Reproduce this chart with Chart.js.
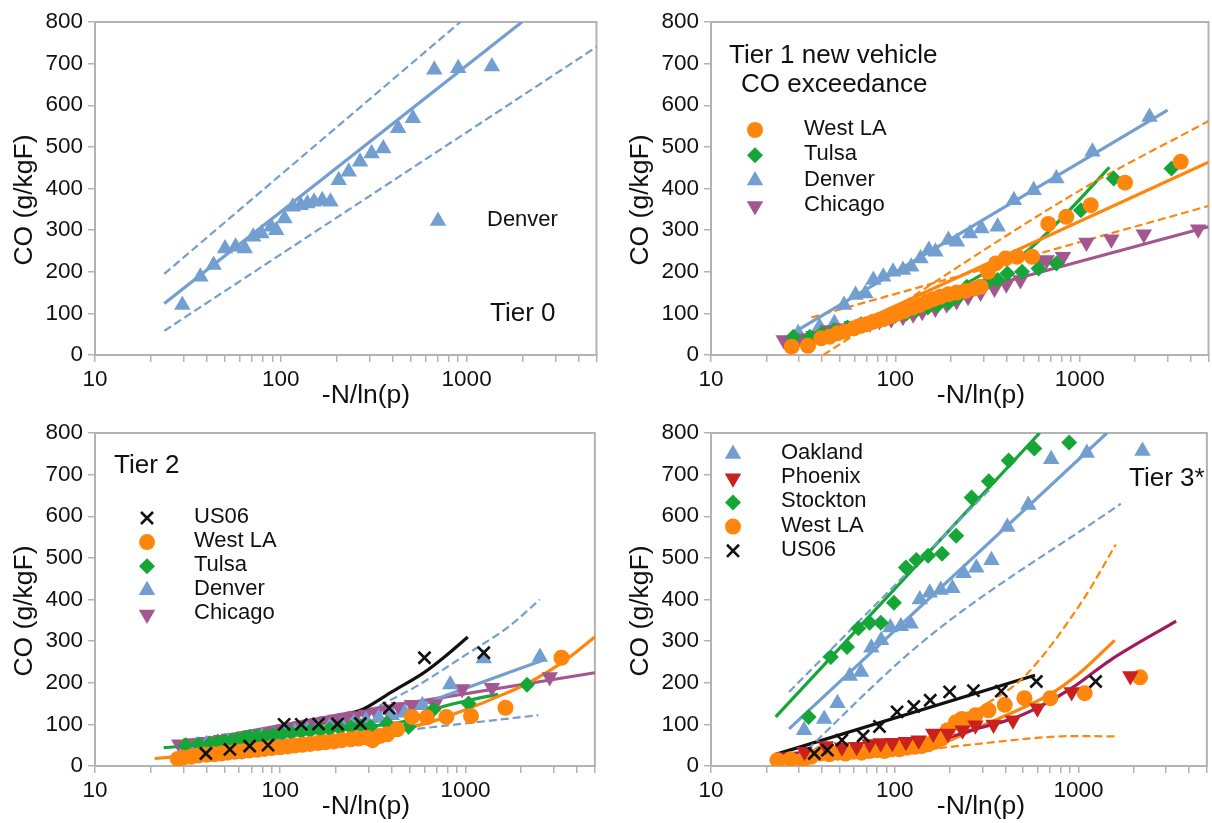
<!DOCTYPE html>
<html>
<head>
<meta charset="utf-8">
<script src="https://cdn.jsdelivr.net/npm/chart.js@4.4.1/dist/chart.umd.min.js"></script>
<style>
  html, body { margin: 0; padding: 0; background: #fff; overflow: hidden; width: 1212px; height: 823px; }
  canvas { position: absolute; }
</style>
</head>
<body>
<canvas id="tier0" width="606" height="411" style="left:0;top:0"></canvas>
<canvas id="tier1" width="612" height="411" style="left:606px;top:0"></canvas>
<canvas id="tier2" width="606" height="412" style="left:0;top:411px"></canvas>
<canvas id="tier3" width="612" height="412" style="left:606px;top:411px"></canvas>
<script>
// ---------- axis ticks ----------
const xMajorTicks = [10, 100, 1000];
const xMinorTicks = [20, 30, 40, 50, 60, 70, 80, 90, 200, 300, 400, 500, 600, 700, 800, 900, 2000, 3000, 4000, 5000];
const yTickLabels = [0, 100, 200, 300, 400, 500, 600, 700, 800];

// ---------- Tier 0 : [-N/ln(p), CO g/kgF] ----------
const tier0Denver = [[29.5,120],[36.9,188],[43.5,216],[50.1,256],[57.1,260],[64,256],[71,284],[78.6,292],[88.8,308],[94.5,300],[104.7,328],[116,356],[128,360],[139,364],[151,368],[167,372],[185,368],[205,420],[232,440],[267,464],[308,484],[356,496],[428,545],[514,569],[670,685],[901,689],[1368,693]];
const tier0DenverFit = [[23.6,124],[1986,800]];
const tier0DenverUpper = [[23.6,195],[925,800]];
const tier0DenverLower = [[23.6,58],[5000,740]];

// ---------- Tier 1 ----------
const tier1WestLA = [[27.4,20],[33.6,22],[39.6,40],[44,44],[48.5,52],[53,56],[59.6,64],[65,70],[70,74],[76,80],[82,84],[88,88],[95,94],[103,100],[112,106],[124,114],[135,120],[148,128],[160,134],[175,140],[194,146],[215,150],[240,154],[270,160],[290,164],[318,200],[351,220],[397,232],[458,236],[551,236],[676,315],[846,332],[1148,360],[1762,414],[3532,464]];
const tier1Tulsa = [[28,44],[34.4,44],[40,52],[46.7,60],[55,66],[65,74],[75,80],[88,86],[100,94],[115,100],[130,108],[150,114],[170,120],[195,126],[220,140],[244,164],[318,176],[359,180],[405,196],[487,200],[598,208],[748,220],[1016,348],[1530,424],[3150,448]];
const tier1Denver = [[29.7,52],[38.8,68],[46.7,76],[52.7,120],[60.8,144],[68.8,148],[76,180],[86,188],[97.2,200],[110,204],[122,212],[137,232],[152,252],[165,248],[194,276],[216,272],[254,292],[293,304],[359,308],[440,372],[563,396],[748,424],[1173,488],[2393,572]];
const tier1Chicago = [[24.8,36],[30,40],[36,46],[43,60],[50,64],[58,70],[66,74],[73,76],[82,82],[95,86],[110,92],[125,98],[140,104],[165,112],[190,122],[215,130],[248,140],[290,150],[345,160],[400,170],[477,180],[611,222],[662,228],[812,236],[1089,270],[1486,278],[2229,290],[4395,302]];
const tier1DenverFit = [[28.6,56],[3000,588]];
const tier1WestLAFit = [[39.6,36],[5000,463]];
const tier1WestLAUpper = [[40.7,0],[1000,395],[5000,562]];
const tier1WestLALower = [[35,90],[5000,358]];
const tier1TulsaFit = [[27,38],[60,62],[100,90],[200,150],[300,195],[498,244],[846,340],[1449,451]];
const tier1ChicagoFit = [[25,33],[5000,308]];

// ---------- Tier 2 ----------
const tier2US06 = [[39.7,30],[53.5,40],[68.4,48],[85.9,50],[105,100],[130,100],[161,101],[204,101],[271,102],[387,139],[601,260],[1256,272]];
const tier2WestLA = [[28,17],[30,20],[33,22],[36,25],[40,27],[44,28],[48,30],[52,32],[57,34],[62,35],[68,37],[75,39],[82,41],[90,43],[100,45],[110,47],[120,49],[132,51],[145,53],[160,55],[175,57],[195,59],[215,62],[240,64],[265,66],[295,68],[315,62],[345,72],[378,76],[428,88],[514,118],[618,117],[789,118],[1072,120],[1645,140],[3300,260]];
const tier2Tulsa = [[30.8,50],[36,52],[41.6,54],[46,58],[50.3,60],[55,62],[59.3,64],[64,67],[68.4,70],[75,71],[82.8,72],[92,75],[102,77],[115,80],[130,82],[145,84],[165,86],[185,88],[210,90],[240,93],[270,96],[308,94],[378,102],[493,94],[670,135],[1040,150],[2150,195]];
const tier2Denver = [[31,46],[35,48],[40,52],[46,56],[52,58],[60,62],[70,66],[80,70],[92,74],[105,78],[120,82],[140,86],[160,90],[185,94],[215,98],[250,104],[290,110],[340,116],[400,122],[470,128],[585,146],[828,196],[1256,258],[2525,262]];
const tier2Chicago = [[28.5,52],[33,55],[36.9,56],[40,58],[43.5,60],[48,63],[53,66],[58,68],[64,71],[70,74],[78,77],[86,80],[95,84],[105,88],[117,92],[130,96],[145,100],[160,104],[180,108],[200,112],[225,116],[255,120],[290,124],[330,128],[380,134],[437,142],[514,147],[684,149],[960,185],[1390,188],[2850,214]];
const tier2US06Fit = [[29,30],[40,34],[53,42],[68,50],[90,64],[130,86],[171,104],[230,122],[290,140],[400,178],[600,225],[770,262],[1030,310]];
const tier2WestLAFit = [[21,18],[40,28],[100,42],[200,57],[290,67],[450,88],[656,106],[1000,135],[1486,166],[2200,200],[3366,250],[5000,310]];
const tier2TulsaFit = [[23.5,44],[50,55],[100,72],[200,86],[290,94],[494,110],[712,139],[1072,159],[1500,172]];
const tier2DenverFit = [[30,45],[100,68],[316,105],[839,174],[2685,256]];
const tier2DenverUpper = [[300,132],[536,190],[988,265],[1714,335],[2525,400]];
const tier2DenverLower = [[474,86],[2477,122]];
const tier2ChicagoFit = [[28,52],[290,135],[5000,224]];

// ---------- Tier 3* ----------
const tier3Oakland = [[32.1,86],[41.3,113],[48.8,151],[56.9,216],[65.6,226],[74.6,284],[84.4,302],[94.6,333],[108,336],[122,342],[137,400],[155,416],[178,423],[206,427],[237,463],[278,476],[336,494],[410,574],[533,627],[710,737],[1110,752],[2230,757]];
const tier3Phoenix = [[32.3,34],[42.1,48],[51.6,45],[62,46],[73,53],[84,55],[97,56],[115,58],[135,62],[162,78],[195,78],[234,86],[275,98],[345,100],[440,110],[598,139],[918,178],[1915,216]];
const tier3Stockton = [[34,118],[44.9,262],[55,286],[63.4,331],[73,344],[84,344],[99,392],[115,477],[131,495],[152,505],[181,510],[216,553],[262,645],[325,684],[417,734],[575,763],[890,777]];
const tier3WestLA = [[23,14],[27,16],[31.6,14],[35,22],[39.5,30],[44,28],[49,32],[54,30],[60,34],[66,32],[73,36],[80,38],[88,36],[96,40],[106,40],[117,44],[128,46],[140,48],[152,52],[165,58],[180,66],[194,86],[215,105],[232,113],[250,112],[275,122],[324,134],[397,147],[508,163],[703,163],[1081,175],[2163,213]];
const tier3US06 = [[36.5,30],[43,38],[51.6,62],[67.3,72],[82.6,95],[103,130],[127,143],[156,158],[199,178],[268,181],[380,180],[590,203],[1240,203]];
const tier3OaklandFit = [[26.6,89],[1429,800]];
const tier3OaklandUpper = [[26.6,178],[339,670]];
const tier3OaklandLower = [[27,0],[146,303],[1700,630]];
const tier3StocktonFit = [[22.5,118],[615,800]];
const tier3PhoenixFit = [[22.5,28],[50,38],[100,50],[200,70],[270,88],[440,114],[611,142],[918,187],[1500,255],[3400,348]];
const tier3WestLAFit = [[22.5,16],[50,22],[100,32],[160,48],[200,62],[270,88],[405,122],[718,175],[1038,227],[1574,302]];
const tier3WestLAUpper = [[150,55],[293,140],[508,215],[1059,399],[1596,532]];
const tier3WestLALower = [[150,40],[270,52],[611,68],[1000,72],[1600,71]];
const tier3US06Fit = [[22.5,28],[580,218]];

// ---------- styling ----------
const FONT = "'Liberation Sans', Arial, sans-serif";
const AXIS_COLOR = '#b3b3b3';
const TEXT_COLOR = '#111111';
const BLUE = '#729fcf';
const ORANGE = '#ff860d';
const GREEN = '#16a638';
const PURPLE = '#a3578f';
const RED = '#c9211e';
const CRIMSON = '#a3195b';
const BLACK = '#111111';

const MARK = {
  tri:   { ps: 'triangle', rot: 0,   r: 9.5 },
  down:  { ps: 'triangle', rot: 180, r: 9.5 },
  dia:   { ps: 'rectRot',  rot: 0,   r: 8 },
  dot:   { ps: 'circle',   rot: 0,   r: 8 },
  cross: { ps: 'crossRot', rot: 0,   r: 8.5, bw: 2.6 }
};

function pts(arr) { return arr.map(p => ({ x: p[0], y: p[1] })); }

function markers(arr, kind, color, order) {
  const m = MARK[kind];
  return {
    data: pts(arr), showLine: false, order: order,
    pointStyle: m.ps, pointRotation: m.rot, pointRadius: m.r, pointHoverRadius: m.r,
    pointBackgroundColor: color, pointBorderColor: color, pointBorderWidth: m.bw || 0
  };
}

function fit(arr, color, opts) {
  opts = opts || {};
  return {
    data: pts(arr), showLine: true, pointRadius: 0, pointHoverRadius: 0,
    borderColor: color, borderWidth: opts.dash ? 2.2 : 3.2,
    borderDash: opts.dash ? [8, 4] : [],
    cubicInterpolationMode: opts.curve ? 'monotone' : 'default',
    fill: false, order: 20
  };
}

function drawMarker(ctx, kind, color, x, y) {
  const m = MARK[kind], r = m.r;
  ctx.save();
  ctx.fillStyle = color; ctx.strokeStyle = color;
  ctx.beginPath();
  if (kind === 'tri' || kind === 'down') {
    const s = kind === 'down' ? -1 : 1;
    ctx.moveTo(x, y - s * r);
    ctx.lineTo(x + 0.866 * r, y + s * 0.5 * r);
    ctx.lineTo(x - 0.866 * r, y + s * 0.5 * r);
    ctx.closePath(); ctx.fill();
  } else if (kind === 'dia') {
    ctx.moveTo(x, y - r); ctx.lineTo(x + r, y); ctx.lineTo(x, y + r); ctx.lineTo(x - r, y);
    ctx.closePath(); ctx.fill();
  } else if (kind === 'dot') {
    ctx.arc(x, y, r, 0, Math.PI * 2); ctx.fill();
  } else {
    const d = r * Math.SQRT1_2;
    ctx.lineWidth = m.bw;
    ctx.moveTo(x - d, y - d); ctx.lineTo(x + d, y + d);
    ctx.moveTo(x + d, y - d); ctx.lineTo(x - d, y + d);
    ctx.stroke();
  }
  ctx.restore();
}

// frame, axis titles, panel notes and legend
function decorPlugin(d) {
  return {
    id: 'decor',
    beforeDatasetsDraw(chart) {
      const a = chart.chartArea, ctx = chart.ctx;
      ctx.save();
      ctx.strokeStyle = AXIS_COLOR; ctx.lineWidth = 2;
      ctx.strokeRect(a.left, a.top, a.right - a.left, a.bottom - a.top);
      ctx.restore();
    },
    afterDraw(chart) {
      const ctx = chart.ctx;
      ctx.save();
      ctx.fillStyle = TEXT_COLOR;
      ctx.textBaseline = 'middle';
      ctx.font = '26.5px ' + FONT;
      ctx.textAlign = 'center';
      ctx.fillText('-N/ln(p)', d.xTitle[0], d.xTitle[1]);
      ctx.save();
      ctx.translate(d.yTitle[0], d.yTitle[1]);
      ctx.rotate(-Math.PI / 2);
      ctx.fillText('CO (g/kgF)', 0, 0);
      ctx.restore();
      ctx.textAlign = 'left';
      ctx.font = '26px ' + FONT;
      d.notes.forEach(n => ctx.fillText(n[0], n[1], n[2]));
      ctx.font = '22px ' + FONT;
      d.legend.entries.forEach((e, i) => {
        const y = d.legend.y + i * d.legend.step;
        drawMarker(ctx, e[1], e[2], d.legend.mx, y);
        ctx.fillStyle = TEXT_COLOR;
        ctx.fillText(e[0], d.legend.tx, y - 1);
      });
      ctx.restore();
    }
  };
}

function makePanel(id, datasets, geom, decor) {
  const xTicks = xMajorTicks.concat(xMinorTicks).sort((a, b) => a - b);
  new Chart(document.getElementById(id), {
    type: 'scatter',
    data: { datasets: datasets },
    options: {
      responsive: false, animation: false, devicePixelRatio: 1,
      layout: { padding: { left: 0, right: geom.padRight, top: 22, bottom: 0 } },
      plugins: { legend: { display: false }, tooltip: { enabled: false } },
      scales: {
        x: {
          type: 'logarithmic', min: 10, max: 5000,
          afterBuildTicks(scale) { scale.ticks = xTicks.map(v => ({ value: v })); },
          afterFit(scale) { scale.height = geom.xHeight; },
          ticks: {
            autoSkip: false, maxRotation: 0, padding: 4,
            color: TEXT_COLOR, font: { family: FONT, size: 22.5 },
            callback: v => (xMajorTicks.includes(v) ? String(v) : '')
          },
          grid: { drawOnChartArea: false, drawTicks: true, tickLength: 7, color: AXIS_COLOR, lineWidth: 1.5 },
          border: { display: true, color: AXIS_COLOR, width: 2 }
        },
        y: {
          min: 0, max: 800,
          afterFit(scale) { scale.width = geom.yWidth; },
          ticks: {
            stepSize: 50, padding: 5,
            color: TEXT_COLOR, font: { family: FONT, size: 22.5 },
            callback: v => (yTickLabels.includes(v) ? String(v) : '')
          },
          grid: { drawOnChartArea: false, drawTicks: true, tickLength: 7, color: AXIS_COLOR, lineWidth: 1.5 },
          border: { display: true, color: AXIS_COLOR, width: 2 }
        }
      }
    },
    plugins: [decorPlugin(decor)]
  });
}

const leftGeom = { yWidth: 95, padRight: 2 };
const rightGeom = { yWidth: 105, padRight: 0 };

makePanel('tier0', [
  markers(tier0Denver, 'tri', BLUE, 0),
  fit(tier0DenverFit, BLUE),
  fit(tier0DenverUpper, BLUE, { dash: true }),
  fit(tier0DenverLower, BLUE, { dash: true })
], Object.assign({ xHeight: 56 }, leftGeom), {
  xTitle: [366, 396], yTitle: [25, 200],
  notes: [['Tier 0', 490, 314]],
  legend: { mx: 438, tx: 487, y: 221, step: 25, entries: [['Denver', 'tri', BLUE]] }
});

makePanel('tier1', [
  markers(tier1WestLA, 'dot', ORANGE, 0),
  markers(tier1Tulsa, 'dia', GREEN, 1),
  markers(tier1Chicago, 'down', PURPLE, 2),
  markers(tier1Denver, 'tri', BLUE, 3),
  fit(tier1DenverFit, BLUE),
  fit(tier1WestLAFit, ORANGE),
  fit(tier1WestLAUpper, ORANGE, { dash: true, curve: true }),
  fit(tier1WestLALower, ORANGE, { dash: true }),
  fit(tier1TulsaFit, GREEN, { curve: true }),
  fit(tier1ChicagoFit, PURPLE)
], Object.assign({ xHeight: 56 }, rightGeom), {
  xTitle: [375, 396], yTitle: [35, 200],
  notes: [['Tier 1 new vehicle', 123, 56], ['CO exceedance', 135, 85]],
  legend: { mx: 149, tx: 198, y: 130, step: 25.3, entries: [
    ['West LA', 'dot', ORANGE], ['Tulsa', 'dia', GREEN], ['Denver', 'tri', BLUE], ['Chicago', 'down', PURPLE]] }
});

makePanel('tier2', [
  markers(tier2US06, 'cross', BLACK, 0),
  markers(tier2WestLA, 'dot', ORANGE, 1),
  markers(tier2Tulsa, 'dia', GREEN, 2),
  markers(tier2Denver, 'tri', BLUE, 3),
  markers(tier2Chicago, 'down', PURPLE, 4),
  fit(tier2US06Fit, BLACK, { curve: true }),
  fit(tier2WestLAFit, ORANGE, { curve: true }),
  fit(tier2TulsaFit, GREEN, { curve: true }),
  fit(tier2DenverFit, BLUE, { curve: true }),
  fit(tier2DenverUpper, BLUE, { dash: true, curve: true }),
  fit(tier2DenverLower, BLUE, { dash: true }),
  fit(tier2ChicagoFit, PURPLE)
], Object.assign({ xHeight: 57 }, leftGeom), {
  xTitle: [366, 396], yTitle: [25, 200],
  notes: [['Tier 2', 114, 55]],
  legend: { mx: 147, tx: 194, y: 107, step: 24.1, entries: [
    ['US06', 'cross', BLACK], ['West LA', 'dot', ORANGE], ['Tulsa', 'dia', GREEN], ['Denver', 'tri', BLUE], ['Chicago', 'down', PURPLE]] }
});

makePanel('tier3', [
  markers(tier3US06, 'cross', BLACK, 0),
  markers(tier3Phoenix, 'down', RED, 1),
  markers(tier3WestLA, 'dot', ORANGE, 2),
  markers(tier3Stockton, 'dia', GREEN, 3),
  markers(tier3Oakland, 'tri', BLUE, 4),
  fit(tier3OaklandFit, BLUE),
  fit(tier3OaklandUpper, BLUE, { dash: true }),
  fit(tier3OaklandLower, BLUE, { dash: true, curve: true }),
  fit(tier3StocktonFit, GREEN),
  fit(tier3PhoenixFit, CRIMSON, { curve: true }),
  fit(tier3WestLAFit, ORANGE, { curve: true }),
  fit(tier3WestLAUpper, ORANGE, { dash: true, curve: true }),
  fit(tier3WestLALower, ORANGE, { dash: true, curve: true }),
  fit(tier3US06Fit, BLACK)
], Object.assign({ xHeight: 57 }, rightGeom), {
  xTitle: [375, 396], yTitle: [35, 200],
  notes: [['Tier 3*', 523, 68]],
  legend: { mx: 127, tx: 175, y: 43, step: 24.2, entries: [
    ['Oakland', 'tri', BLUE], ['Phoenix', 'down', RED], ['Stockton', 'dia', GREEN], ['West LA', 'dot', ORANGE], ['US06', 'cross', BLACK]] }
});
</script>
</body>
</html>
